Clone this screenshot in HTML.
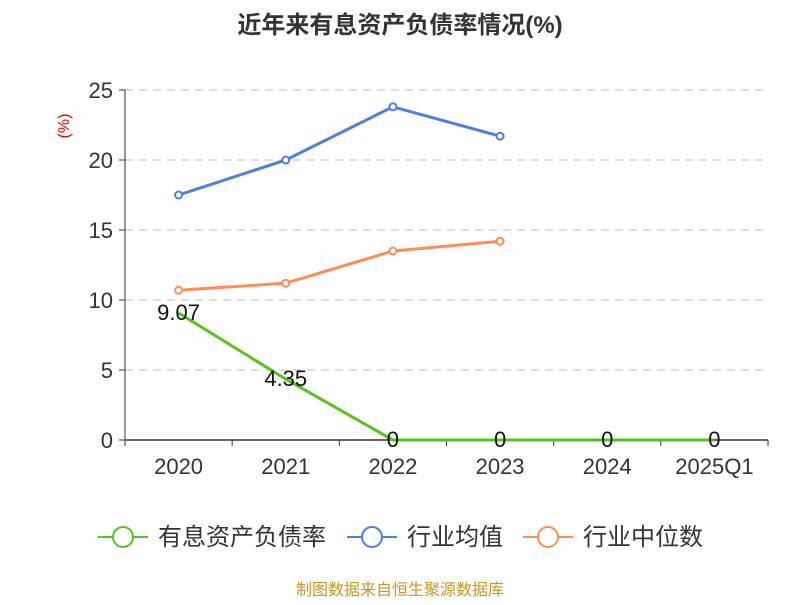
<!DOCTYPE html>
<html><head><meta charset="utf-8"><style>
body{margin:0;background:#fff;font-family:"Liberation Sans","Noto Sans CJK SC",sans-serif;}
#wrap{position:relative;width:800px;height:600px;}
</style></head><body>
<div id="wrap">
<svg id="svg" width="800" height="600" xmlns="http://www.w3.org/2000/svg" style="font-family:'Liberation Sans','Noto Sans CJK SC',sans-serif">
<text x="400" y="33" text-anchor="middle" font-size="24" font-weight="bold" fill="#333">近年来有息资产负债率情况(%)</text>
<text x="69" y="126" text-anchor="middle" font-size="16" fill="#e00" transform="rotate(-90 69 126)">(%)</text>
<g id="grid"></g><g id="axes"></g><g id="series"></g>
<g>
<g><line x1="98" y1="537" x2="148" y2="537" stroke="#52c41a" stroke-width="2"/><circle cx="123" cy="537" r="10" fill="#fff" stroke="#52c41a" stroke-width="2"/><text x="158" y="545" font-size="24" fill="#333">有息资产负债率</text></g>
<g><line x1="347" y1="537" x2="397" y2="537" stroke="#4e7fe0" stroke-width="2"/><circle cx="372" cy="537" r="10" fill="#fff" stroke="#4e7fe0" stroke-width="2"/><text x="407" y="545" font-size="24" fill="#333">行业均值</text></g>
<g><line x1="523" y1="537" x2="573" y2="537" stroke="#ff8c55" stroke-width="2"/><circle cx="548" cy="537" r="10" fill="#fff" stroke="#ff8c55" stroke-width="2"/><text x="583" y="545" font-size="24" fill="#333">行业中位数</text></g>
</g>
<text x="400" y="595" text-anchor="middle" font-size="16" fill="#c8961e">制图数据来自恒生聚源数据库</text>
</svg>
</div>
<script>
const categories=["2020","2021","2022","2023","2024","2025Q1"];
const debtRatio=[9.07,4.35,0,0,0,0];
const industryAvg=[17.5,20.0,23.8,21.7];
const industryMedian=[10.7,11.2,13.5,14.2];
const yTicks=[0,5,10,15,20,25];
const NS="http://www.w3.org/2000/svg";
const x0=125,x1=768,yBase=440,yTop=90,yMax=25;
const band=(x1-x0)/categories.length;
const X=i=>x0+band*(i+0.5);
const Y=v=>yBase-(v/yMax)*(yBase-yTop);
function mk(tag,attrs,parent,text){const e=document.createElementNS(NS,tag);for(const k in attrs)e.setAttribute(k,attrs[k]);if(text!==undefined)e.textContent=text;parent.appendChild(e);return e;}
const grid=document.getElementById('grid'),axes=document.getElementById('axes'),ser=document.getElementById('series');
yTicks.forEach(t=>{
 if(t>0){const l=mk('line',{x1:x0,x2:x1,y1:Y(t),y2:Y(t),stroke:'#bbb','stroke-dasharray':'8,6'},grid);
 
 }
 const tk=mk('line',{x1:x0-6,x2:x0,y1:Y(t),y2:Y(t),stroke:'#333'},axes);
 
 
 const tx=mk('text',{x:x0-12,y:Y(t)+8,'text-anchor':'end','font-size':22,fill:'#333'},axes,String(t));
 
 
});
const ya=mk('line',{x1:x0,x2:x0,y1:yTop,y2:yBase,stroke:'#333'},axes);


const xa=mk('line',{x1:x0,x2:x1,y1:yBase,y2:yBase,stroke:'#333','stroke-width':1.5},axes);


for(let i=0;i<=categories.length;i++){const t=mk('line',{x1:x0+band*i,x2:x0+band*i,y1:yBase,y2:yBase+6,stroke:'#333'},axes);
 
 }
categories.forEach((c,i)=>{const t=mk('text',{x:X(i),y:yBase+34,'text-anchor':'middle','font-size':22,fill:'#333'},axes,c);
 
 });
function series(vals,color,name,labels){
 const g=mk('g',{},ser);
 
 
 const p=mk('polyline',{points:vals.map((v,i)=>X(i)+','+Y(v)).join(' '),fill:'none',stroke:color,'stroke-width':3},g);
 
 
 vals.forEach((v,i)=>{
  if(labels){const t=mk('text',{x:X(i),y:Y(v)+7,'text-anchor':'middle','font-size':22,fill:'#111'},g,String(v));
   
   }
  else{const c=mk('circle',{cx:X(i),cy:Y(v),r:3.5,fill:'#fff',stroke:color,'stroke-width':2},g);
   
   }
 });
}
series(industryAvg,'#4e7fe0','industry-avg',false);
series(industryMedian,'#ff8c55','industry-median',false);
series(debtRatio,'#52c41a','debt-ratio',true);
</script>
</body></html>
